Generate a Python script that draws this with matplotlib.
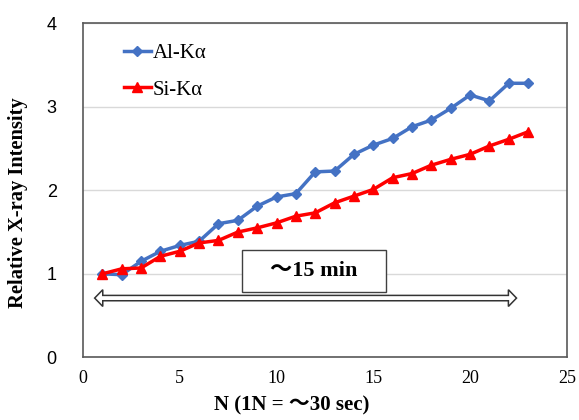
import matplotlib
matplotlib.use("Agg")
import matplotlib.pyplot as plt
from matplotlib.patches import Polygon, Rectangle

# readings from the chart
n = list(range(1, 24))
al_ka = [1.00, 0.99, 1.15, 1.27, 1.34, 1.39, 1.60, 1.64, 1.81, 1.92, 1.96, 2.22,
         2.23, 2.43, 2.54, 2.62, 2.76, 2.84, 2.98, 3.14, 3.07, 3.28, 3.28]
si_ka = [1.00, 1.06, 1.07, 1.21, 1.27, 1.37, 1.40, 1.50, 1.55, 1.61, 1.69, 1.73,
         1.85, 1.93, 2.01, 2.15, 2.20, 2.30, 2.37, 2.43, 2.53, 2.61, 2.70]
x_ticks = [0, 5, 10, 15, 20, 25]
y_ticks = [0, 1, 2, 3, 4]

serif = ["Liberation Serif", "Noto Sans CJK JP"]

fig = plt.figure(figsize=(5.79, 4.2), dpi=100)
ax = fig.add_axes([0.1434, 0.149, 0.8356, 0.796])

ax.plot(n, al_ka, color="#4472C4", lw=2.5, marker="D", ms=5, label="Al-Kα")
ax.plot(n, si_ka, color="#FF0000", lw=2.5, marker="^", ms=7, label="Si-Kα")

ax.set_xlim(0, 25)
ax.set_ylim(0, 4)
ax.set_xticks(x_ticks)
ax.set_yticks(y_ticks)
ax.tick_params(length=0)
ax.tick_params(axis="y", pad=19)
ax.tick_params(axis="x", pad=9)
for lab in ax.get_xticklabels():
    lab.set_family("Liberation Serif")
    lab.set_fontsize(13)
for lab in ax.get_yticklabels():
    lab.set_family("Liberation Sans")
    lab.set_fontsize(13)

ax.grid(axis="y", color="#d9d9d9", lw=1)
ax.set_axisbelow(True)
for s in ax.spines.values():
    s.set_color("#595959")
    s.set_linewidth(1.2)

ax.set_xlabel("N (1N = 〜30 sec)", family=serif, fontsize=15, fontweight="bold")
ax.xaxis.set_label_coords(0.432, -0.113)
ax.set_ylabel("Relative X-ray Intensity", family=serif, fontsize=14.8, fontweight="bold")
ax.yaxis.set_label_coords(-0.114, 0.462)

leg = ax.legend(loc="upper left", bbox_to_anchor=(0.045, 0.994), frameon=False,
                prop={"family": "Liberation Serif", "size": 15},
                handlelength=1.3, handletextpad=0.1, labelspacing=0.8)

# "~15 min" box and hollow double arrow
ax.add_patch(Rectangle((8.2, 0.78), 7.45, 0.5, fc="white", ec="#404040", lw=1))
ax.text(11.93, 1.03, "〜15 min", family=serif, fontsize=16, fontweight="bold",
        ha="center", va="center")

x0, x1, yc = 0.6, 22.4, 0.71
sh, hh, hl = 0.032, 0.1, 0.42
arrow = Polygon([(x0, yc), (x0 + hl, yc + hh), (x0 + hl, yc + sh), (x1 - hl, yc + sh),
                 (x1 - hl, yc + hh), (x1, yc), (x1 - hl, yc - hh), (x1 - hl, yc - sh),
                 (x0 + hl, yc - sh), (x0 + hl, yc - hh)],
                closed=True, fc="white", ec="#333333", lw=1.1, clip_on=False)
ax.add_patch(arrow)

fig.savefig("out.png", dpi=100)
